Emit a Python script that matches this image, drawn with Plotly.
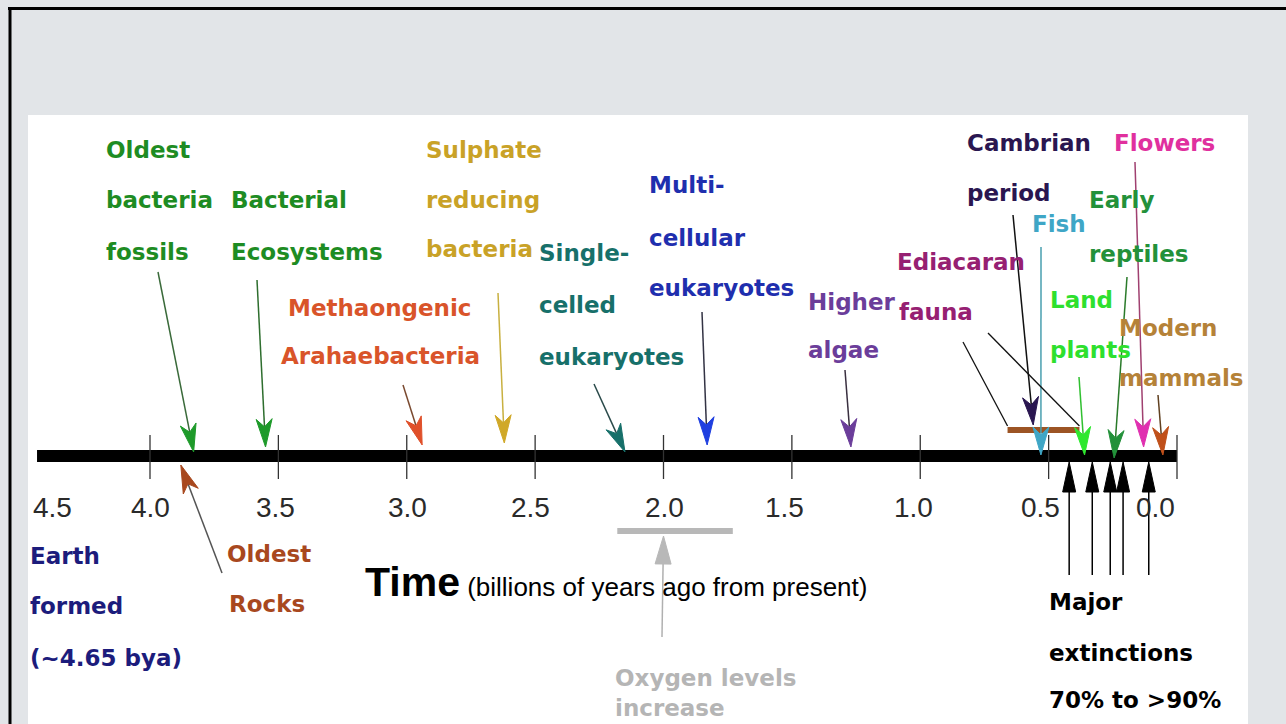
import math
import plotly.graph_objects as go

W, H = 1286, 724

# ---------------- data (billions of years ago) ----------------
event_names = ["Oldest bacteria fossils", "Bacterial Ecosystems", "Methaongenic Arahaebacteria",
               "Sulphate reducing bacteria", "Single-celled eukaryotes", "Multi-cellular eukaryotes",
               "Higher algae", "Cambrian period", "Fish", "Land plants", "Early reptiles",
               "Flowers", "Modern mammals"]
event_times = [3.83, 3.55, 2.94, 2.62, 2.15, 1.83, 1.27, 0.56, 0.53, 0.36, 0.245, 0.13, 0.055]
event_lines = [["Oldest", "bacteria", "fossils"], ["Bacterial", "Ecosystems"],
               ["Methaongenic", "Arahaebacteria"], ["Sulphate", "reducing", "bacteria"],
               ["Single-", "celled", "eukaryotes"], ["Multi-", "cellular", "eukaryotes"],
               ["Higher", "algae"], ["Cambrian", "period"], ["Fish"], ["Land", "plants"],
               ["Early", "reptiles"], ["Flowers"], ["Modern", "mammals"]]

ediacaran_range = [0.66, 0.38]
ediacaran_lines = ["Ediacaran", "fauna"]
oldest_rocks_time = 3.88
oldest_rocks_lines = ["Oldest", "Rocks"]
earth_lines = ["Earth", "formed", "(~4.65 bya)"]
oxygen_range = [2.18, 1.73]
oxygen_time = 2.0
oxygen_lines = ["Oxygen levels", "increase"]
extinction_times = [0.42, 0.33, 0.26, 0.21, 0.11]
extinction_lines = ["Major", "extinctions", "70% to &gt;90%"]
timeline_range = [4.44, 0.0]
tick_values = [4.5, 4.0, 3.5, 3.0, 2.5, 2.0, 1.5, 1.0, 0.5, 0.0]
tick_labels = ["4.5", "4.0", "3.5", "3.0", "2.5", "2.0", "1.5", "1.0", "0.5", "0.0"]
tick_marks = [4.0, 3.5, 3.0, 2.5, 2.0, 1.5, 1.0, 0.5, 0.0]

# ---------------- styles / layout positions (pixels) ----------------
event_colors = ["#1e8c23", "#1e8c23", "#d9542a", "#c9a227", "#17706a", "#1f2fae", "#6b3d9a",
                "#2a1650", "#3fa6c6", "#2ee02e", "#23913a", "#e0309e", "#b58238"]
head_colors = ["#1e9a2a", "#1e9a2a", "#e0502a", "#d0a828", "#17706a", "#1f3fe0", "#6b3d9a",
               "#2a1650", "#3fa6c6", "#2ee82e", "#23913a", "#e030b0", "#c0501a"]
stem_colors = ["#3a6a3a", "#2e6e2e", "#7a4a30", "#c8b040", "#2a4a4a", "#333344", "#3a3040",
               "#111111", "#4aa0b0", "#30c030", "#2a7a2a", "#a04070", "#604020"]
label_x = [104, 229, 380, 424, 537, 647, 806, 965, 1030, 1048, 1087, 1112, 1117]
label_anchor = ["left", "left", "center"] + ["left"] * 10
label_y = [[150, 200, 252], [200, 252], [308, 356], [150, 200, 249], [253, 305, 357],
           [185, 238, 288], [302, 350], [143, 193], [224], [300, 350], [200, 254], [143], [328, 378]]
tail_xy = [(158, 272), (257, 280), (403, 385), (498, 293), (594, 384), (702, 312), (845, 370),
           (1013, 215), (1041, 247), (1079, 377), (1127, 277), (1135, 162), (1158, 395)]
tip_y = [452, 447, 445, 443, 452, 445, 447, 425, 455, 455, 458, 447, 455]

X_END_PX = 1177.0
PX_PER_BYA = 256.75
LINE_Y = 456
FONT_LABEL = "DejaVu Sans"
LABEL_SIZE = 23
FONT_AXIS = "Liberation Sans, Arial"


def t2px(t):
    return X_END_PX - PX_PER_BYA * t


def px2t(px):
    return (X_END_PX - px) / PX_PER_BYA


shapes = []
annotations = []

# background: gray slide, white content area, border
shapes.append(dict(type="rect", xref="paper", yref="y", x0=28 / W, x1=1248 / W, y0=115, y1=730,
                   fillcolor="white", line=dict(width=0), layer="below"))
shapes.append(dict(type="line", xref="paper", yref="y", x0=8 / W, x1=1, y0=8.5, y1=8.5,
                   line=dict(color="black", width=3)))
shapes.append(dict(type="line", xref="paper", yref="y", x0=10 / W, x1=10 / W, y0=7, y1=730,
                   line=dict(color="black", width=3)))


def add_text(px, py, txt, color, size=LABEL_SIZE, anchor="left", bold=True, family=FONT_LABEL):
    annotations.append(dict(xref="paper", yref="y", x=px / W, y=py, xanchor=anchor,
                            yanchor="middle", showarrow=False,
                            text=("<b>%s</b>" % txt) if bold else txt,
                            font=dict(family=family, size=size, color=color)))


def add_arrow(t, ty, tail_px, tail_y, stem_color, head_color, L=28, hw=8, notch=0.72, lw=1.5):
    tx = t2px(t)
    dx, dy = tx - tail_px, ty - tail_y
    d = math.hypot(dx, dy)
    ux, uy = dx / d, dy / d
    nx, ny = -uy, ux
    bx, by = tx - L * ux, ty - L * uy
    shapes.append(dict(type="line", xref="x", yref="y", x0=px2t(tail_px), y0=tail_y,
                       x1=px2t(tx - notch * L * ux), y1=ty - notch * L * uy,
                       line=dict(color=stem_color, width=lw)))
    p1 = (bx + hw * nx, by + hw * ny)
    p2 = (bx - hw * nx, by - hw * ny)
    pn = (tx - notch * L * ux, ty - notch * L * uy)
    path = "M%f,%f L%f,%f L%f,%f L%f,%f Z" % (t, ty, px2t(p1[0]), p1[1], px2t(pn[0]), pn[1],
                                               px2t(p2[0]), p2[1])
    shapes.append(dict(type="path", xref="x", yref="y", path=path, fillcolor=head_color,
                       line=dict(color=head_color, width=1)))


fig = go.Figure()

# timeline
fig.add_trace(go.Scatter(x=timeline_range, y=[LINE_Y, LINE_Y], mode="lines",
                         line=dict(color="black", width=12), hoverinfo="skip", showlegend=False))
# tick marks
tx, ty = [], []
for v in tick_marks:
    tx += [v, v, None]
    ty += [435, 479, None]
fig.add_trace(go.Scatter(x=tx, y=ty, mode="lines", line=dict(color="#333333", width=1.3),
                         hoverinfo="skip", showlegend=False))
# Ediacaran range bar
fig.add_trace(go.Scatter(x=ediacaran_range, y=[430, 430], mode="lines",
                         line=dict(color="#9c5424", width=6), hoverinfo="skip", showlegend=False))
# oxygen bar
fig.add_trace(go.Scatter(x=oxygen_range, y=[531, 531], mode="lines",
                         line=dict(color="#b8b8b8", width=6), hoverinfo="skip", showlegend=False))

# tick labels
tick_shift = [31, 0, -3, 1, -5, 1, -7, -7, -8, -22]
for v, lab, sh in zip(tick_values, tick_labels, tick_shift):
    annotations.append(dict(xref="x", yref="y", x=v, y=507, xshift=sh, xanchor="center",
                            yanchor="middle", showarrow=False, text=lab,
                            font=dict(family=FONT_AXIS, size=28, color="#2a2a2a")))

# axis title
annotations.append(dict(xref="paper", yref="y", x=363 / W, y=582, xanchor="left", yanchor="middle",
                        showarrow=False,
                        text="<span style='font-size:41px'><b>Time</b></span>"
                             "<span style='font-size:26px'> (billions of years ago from present)</span>",
                        font=dict(family=FONT_AXIS, size=26, color="black")))

# events above the line
for i in range(len(event_names)):
    for line, yy in zip(event_lines[i], label_y[i]):
        add_text(label_x[i], yy, line, event_colors[i], anchor=label_anchor[i])
    add_arrow(event_times[i], tip_y[i], tail_xy[i][0], tail_xy[i][1],
              stem_colors[i], head_colors[i])

# Ediacaran fauna
add_text(895, 262, ediacaran_lines[0], "#962072")
add_text(897, 312, ediacaran_lines[1], "#962072")
for t, (sx, sy) in zip(ediacaran_range, [(963, 342), (988, 333)]):
    shapes.append(dict(type="line", xref="x", yref="y", x0=px2t(sx), y0=sy, x1=t, y1=426,
                       line=dict(color="#111111", width=1.3)))

# Oldest rocks (below)
add_text(225, 554, oldest_rocks_lines[0], "#a8481e")
add_text(227, 604, oldest_rocks_lines[1], "#a8481e")
add_arrow(oldest_rocks_time, 465, 222, 573, "#555555", "#a8481e")

# Earth formed
for line, yy in zip(earth_lines, [556, 606, 658]):
    add_text(28, yy, line, "#1c1c7c")

# Oxygen
add_arrow(oxygen_time, 536, 662, 637, "#b0b0b0", "#b8b8b8", L=28, hw=8, notch=1.0)
add_text(613, 678, oxygen_lines[0], "#b5b5b5")
add_text(613, 708, oxygen_lines[1], "#b5b5b5")

# Major extinctions
for t in extinction_times:
    add_arrow(t, 462, t2px(t), 575, "black", "black", L=30, hw=6.5, notch=1.0, lw=1.5)
for line, yy in zip(extinction_lines, [602, 653, 700]):
    add_text(1047, yy, line, "black")

fig.update_layout(
    width=W, height=H, margin=dict(l=0, r=0, t=0, b=0),
    paper_bgcolor="#e2e5e8", plot_bgcolor="rgba(0,0,0,0)",
    xaxis=dict(range=[X_END_PX / PX_PER_BYA, (X_END_PX - W) / PX_PER_BYA], visible=False,
               fixedrange=True),
    yaxis=dict(range=[H, 0], visible=False, fixedrange=True),
    shapes=shapes, annotations=annotations, showlegend=False,
)

fig.write_html("out.html", config={"displayModeBar": False},
               post_script="document.body.style.margin='0px';document.body.style.overflow='hidden';")
